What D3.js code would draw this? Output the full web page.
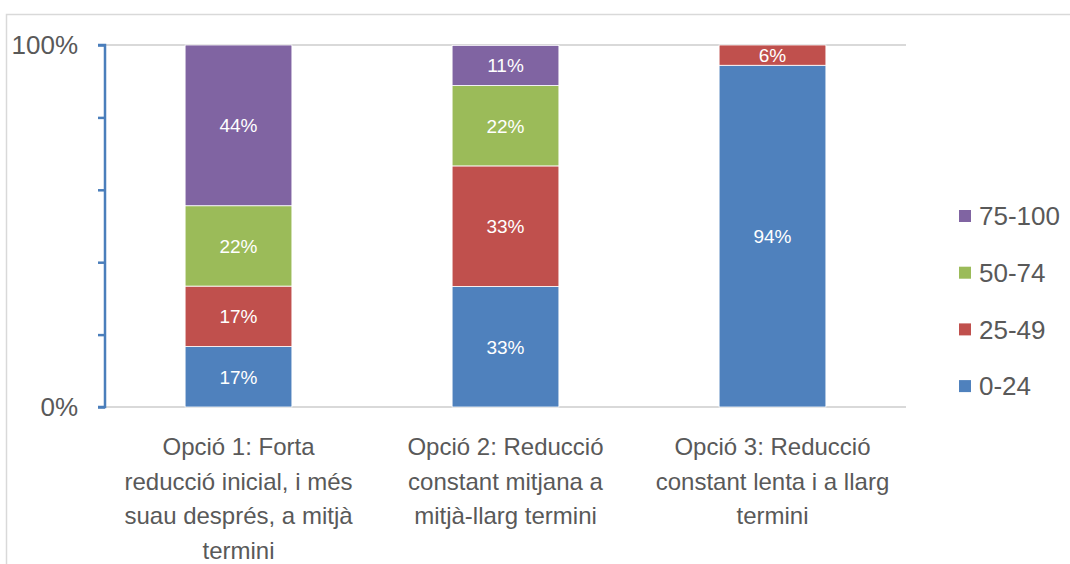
<!DOCTYPE html>
<html>
<head>
<meta charset="utf-8">
<script src="https://cdn.jsdelivr.net/npm/d3@7"></script>
<style>
body{margin:0;background:#fff;}
text{font-family:"Liberation Sans",Arial,sans-serif;}
</style>
</head>
<body>
<div id="content"></div>
<script>
const categories = [
  "Opció 1: Forta reducció inicial, i més suau després, a mitjà termini",
  "Opció 2: Reducció constant mitjana a mitjà-llarg termini",
  "Opció 3: Reducció constant lenta i a llarg termini"
];
// wrapped label lines as seen in the picture
const categoryLines = [
  ["Opció 1: Forta", "reducció inicial, i més", "suau després, a mitjà", "termini"],
  ["Opció 2: Reducció", "constant mitjana a", "mitjà-llarg termini"],
  ["Opció 3: Reducció", "constant lenta i a llarg", "termini"]
];
const seriesNames = ["0-24", "25-49", "50-74", "75-100"];
const v0_24   = [16.7, 33.3, 94.4];
const v25_49  = [16.7, 33.3, 5.6];
const v50_74  = [22.2, 22.2, 0];
const v75_100 = [44.4, 11.1, 0];
const yTicks = [0, 20, 40, 60, 80, 100];
const yTickLabels = ["0%", "", "", "", "", "100%"];

const colors = ["#4f81bd", "#c0504d", "#9bbb59", "#8064a2"];

const w = 1070, h = 564;
const padL = 105, padR = 906, padT = 45, padB = 407;

const table = categories.map((c, i) => ({
  cat: c, i: i,
  "0-24": v0_24[i], "25-49": v25_49[i], "50-74": v50_74[i], "75-100": v75_100[i]
}));
const stack = d3.stack().keys(seriesNames)(table);

const svg = d3.select("#content").append("svg").attr("width", w).attr("height", h);

// chart frame
svg.append("rect").attr("x", 6.5).attr("y", 14.5).attr("width", w + 10).attr("height", h + 10)
  .attr("fill", "none").attr("stroke", "#d9d9d9").attr("stroke-width", 1.5);

const xScale = d3.scaleBand().domain(categories).range([padL, padR]).paddingInner(0.6).paddingOuter(0.3);
const yScale = d3.scaleLinear().domain([0, 100]).range([padB, padT]);

// top gridline and bottom axis line
svg.append("line").attr("x1", padL).attr("x2", padR).attr("y1", yScale(100)).attr("y2", yScale(100))
  .attr("stroke", "#d9d9d9").attr("stroke-width", 2);
svg.append("line").attr("x1", padL).attr("x2", padR).attr("y1", yScale(0)).attr("y2", yScale(0))
  .attr("stroke", "#d9d9d9").attr("stroke-width", 2);

// bars
const layer = svg.selectAll("g.layer").data(stack).enter().append("g")
  .attr("class", "layer").attr("fill", (d, i) => colors[i]);
layer.selectAll("rect").data(d => d.filter(p => p[1] - p[0] > 0)).enter().append("rect")
  .attr("x", d => xScale(d.data.cat))
  .attr("y", d => yScale(d[1]))
  .attr("width", xScale.bandwidth())
  .attr("height", d => yScale(d[0]) - yScale(d[1]))
  .attr("stroke", "#fff").attr("stroke-width", 0.8);

// data labels
layer.selectAll("text").data(d => d.filter(p => p[1] - p[0] > 0)).enter().append("text")
  .attr("x", d => xScale(d.data.cat) + xScale.bandwidth() / 2)
  .attr("y", d => (yScale(d[0]) + yScale(d[1])) / 2)
  .attr("dy", "0.36em")
  .attr("text-anchor", "middle")
  .attr("fill", "#fff")
  .style("font-size", "19px")
  .text(d => Math.round(d[1] - d[0]) + "%");

// y axis
const yAxis = d3.axisLeft(yScale).tickValues(yTicks).tickSize(7).tickFormat("");
const gy = svg.append("g").attr("transform", `translate(${padL},0)`).call(yAxis);
gy.select(".domain").attr("stroke", "#4a7ebb").attr("stroke-width", 2.5).attr("d", `M-7,${padT}H0V${padB}H-7`);
gy.selectAll(".tick line").attr("stroke", "#4a7ebb").attr("stroke-width", 2.5);
svg.selectAll("text.ylab").data(yTicks).enter().append("text").attr("class", "ylab")
  .attr("x", 78).attr("y", d => yScale(d)).attr("dy", "0.36em")
  .attr("text-anchor", "end").attr("fill", "#595959").style("font-size", "26px")
  .text((d, i) => yTickLabels[i]);

// category labels
const catText = svg.selectAll("text.cat").data(categories).enter().append("text")
  .attr("class", "cat")
  .attr("x", d => xScale(d) + xScale.bandwidth() / 2)
  .attr("y", 455)
  .attr("text-anchor", "middle").attr("fill", "#595959").style("font-size", "24px");
catText.selectAll("tspan").data((d, i) => categoryLines[i]).enter().append("tspan")
  .attr("x", function () { return d3.select(this.parentNode).attr("x"); })
  .attr("dy", (d, i) => i === 0 ? 0 : 34.5)
  .text(d => d);

// legend
const legendOrder = [3, 2, 1, 0];
const legend = svg.append("g").selectAll("g").data(legendOrder).enter().append("g")
  .attr("transform", (d, i) => `translate(959,${216 + i * 56.7})`);
legend.append("rect").attr("x", 0).attr("y", -6).attr("width", 12).attr("height", 12)
  .attr("fill", d => colors[d]);
legend.append("text").attr("x", 20).attr("y", 0).attr("dy", "0.36em")
  .attr("fill", "#595959").style("font-size", "26px")
  .text(d => seriesNames[d]);
</script>
</body>
</html>
